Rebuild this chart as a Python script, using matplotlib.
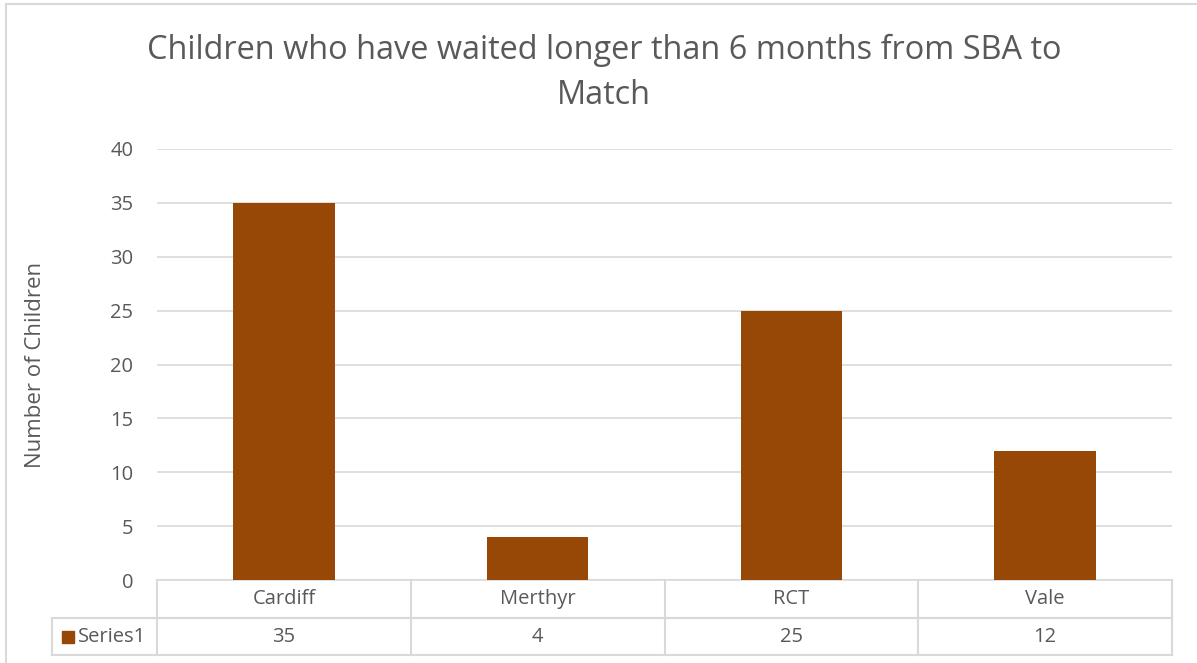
import matplotlib

matplotlib.use("Agg")
import matplotlib.pyplot as plt
from matplotlib.patches import Rectangle
import matplotlib.transforms as mtransforms

categories = ["Cardiff", "Merthyr", "RCT", "Vale"]
values = [35, 4, 25, 12]
series_name = "Series1"
title = "Children who have waited longer than 6 months from SBA to\nMatch"
ylabel = "Number of Children"
yticks = [0, 5, 10, 15, 20, 25, 30, 35, 40]

bar_color = "#974706"
text_color = "#595959"
grid_color = "#D9D9D9"
fs = 14.5

plt.rcParams["font.family"] = ["Open Sans", "DejaVu Sans"]

W, H = 1197, 663
fig = plt.figure(figsize=(W / 100, H / 100), dpi=100)

# outer chart frame (runs off the right/bottom edge)
fig.patches.append(Rectangle((6 / W, -0.1), 1.2, 1 - 4 / H + 0.1,
                             transform=fig.transFigure, fill=False,
                             edgecolor=grid_color, linewidth=1.5))

ax = fig.add_axes([157 / W, 1 - 580 / H, (1172 - 157) / W, (580 - 149) / H])
x = list(range(len(categories)))
ax.bar(x, values, width=0.4, color=bar_color, zorder=3)
ax.set_xlim(-0.5, len(categories) - 0.5)
ax.set_ylim(0, 40)
ax.set_yticks(yticks)
ax.yaxis.grid(True, color=grid_color, linewidth=1.2)
ax.set_axisbelow(True)
ax.tick_params(axis="y", length=0, pad=17, labelsize=fs, labelcolor=text_color)
ax.set_xticks([])
for s in ["top", "right", "left"]:
    ax.spines[s].set_visible(False)
ax.spines["bottom"].set_color(grid_color)
ax.spines["bottom"].set_linewidth(1.2)
ax.set_ylabel(ylabel, fontsize=16, color=text_color)
ax.yaxis.set_label_coords((46 - 157) / 1015, 0.5)

fig.text(604 / W, 1 - 73 / H, title, ha="center", va="center",
         fontsize=23.4, color=text_color, linespacing=1.45)

# data table below the plot
tr = mtransforms.blended_transform_factory(ax.transData, ax.transAxes)
h_ax = 580 - 149
px = len(categories) / 1015
r1 = -(618 - 580) / h_ax
r2 = -(655 - 580) / h_ax
legend_left = -0.5 - 105 * px
line_kw = dict(color=grid_color, linewidth=1.5, transform=tr, clip_on=False)
ax.plot([-0.5, len(categories) - 0.5], [r1, r1], **line_kw)
ax.plot([legend_left, len(categories) - 0.5], [r1, r1], **line_kw)
ax.plot([legend_left, len(categories) - 0.5], [r2, r2], **line_kw)
ax.plot([legend_left, legend_left], [r1, r2], **line_kw)
for i in range(len(categories) + 1):
    ax.plot([i - 0.5, i - 0.5], [0, r2], **line_kw)

for i, (cat, val) in enumerate(zip(categories, values)):
    ax.text(i, r1 / 2, cat, transform=tr, ha="center", va="center",
            fontsize=fs, color=text_color)
    ax.text(i, (r1 + r2) / 2, str(val), transform=tr, ha="center",
            va="center", fontsize=fs, color=text_color)

ax.add_patch(Rectangle((legend_left + 10 * px, (r1 + r2) / 2 - 6 / h_ax),
                       12 * px, 12 / h_ax, transform=tr, color=bar_color,
                       clip_on=False))
ax.text(legend_left + 26 * px, (r1 + r2) / 2, series_name,
        transform=tr, ha="left", va="center", fontsize=fs, color=text_color)

fig.savefig("out.png", dpi=100)
